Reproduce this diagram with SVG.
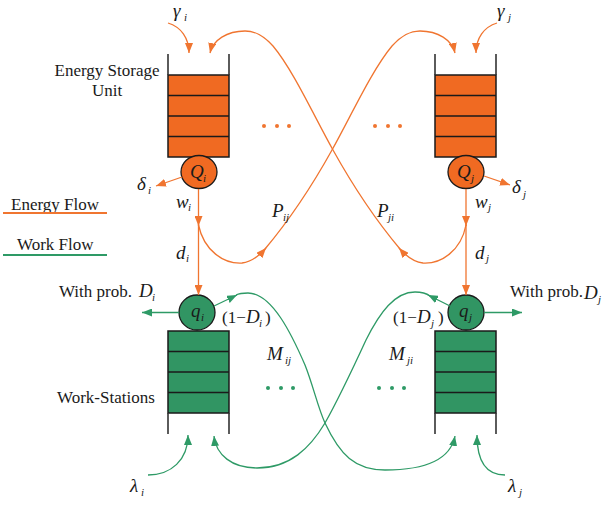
<svg xmlns="http://www.w3.org/2000/svg" width="611" height="507" viewBox="0 0 611 507" font-family="'Liberation Serif', 'Times New Roman', 'DejaVu Serif', serif">
<style>
text{font-family:'Liberation Serif','Times New Roman','DejaVu Serif',serif;fill:#1a1a1a}
.lbl{font-size:17px}
.sym{font-size:19px;font-style:italic}
.sub{font-size:11px;font-style:italic}
.or{fill:none;stroke:#F07530;stroke-width:1.3}
.gr{fill:none;stroke:#2E9A66;stroke-width:1.3}
.wall{stroke:#333;stroke-width:1.6;fill:none}
.ecell{fill:#F06A22;stroke:#1a1a1a;stroke-width:1.5}
.wcell{fill:#319563;stroke:#1a1a1a;stroke-width:1.5}
.div{stroke:#1a1a1a;stroke-width:1.5}
.od{fill:#F07530}
.gd{fill:#2E9A66}
</style>
<defs>
<marker id="ao" markerUnits="userSpaceOnUse" markerWidth="11" markerHeight="8" refX="10" refY="4" orient="auto"><path d="M0,0 L10,4 L0,8 z" fill="#F07530"/></marker>
<marker id="ag" markerUnits="userSpaceOnUse" markerWidth="11" markerHeight="8" refX="10" refY="4" orient="auto"><path d="M0,0 L10,4 L0,8 z" fill="#2E9A66"/></marker>
</defs>

<g id="legend">
<text class="lbl" x="11" y="210">Energy Flow</text>
<line x1="3" y1="213" x2="107" y2="213" stroke="#F07530" stroke-width="2"/>
<text class="lbl" x="17" y="250">Work Flow</text>
<line x1="3" y1="255" x2="107" y2="255" stroke="#2E9A66" stroke-width="2"/>
</g>

<g id="esu-i">
<text class="lbl" x="107" y="76" text-anchor="middle">Energy Storage</text>
<text class="lbl" x="107" y="96" text-anchor="middle">Unit</text>
<rect class="ecell" x="168" y="75" width="61" height="82"/>
<line class="div" x1="168" y1="95.5" x2="229" y2="95.5"/>
<line class="div" x1="168" y1="116" x2="229" y2="116"/>
<line class="div" x1="168" y1="136.5" x2="229" y2="136.5"/>
<line class="wall" x1="168" y1="54" x2="168" y2="75"/>
<line class="wall" x1="229" y1="54" x2="229" y2="75"/>
</g>
<g id="Q-i">
<ellipse cx="199" cy="172" rx="18" ry="16.5" fill="#F06A22" stroke="#1a1a1a" stroke-width="1.3"/>
<text class="sym" x="190" y="178">Q</text><text class="sub" x="203" y="182">i</text>
</g>

<g id="esu-j">
<rect class="ecell" x="435" y="75" width="61" height="82"/>
<line class="div" x1="435" y1="95.5" x2="496" y2="95.5"/>
<line class="div" x1="435" y1="116" x2="496" y2="116"/>
<line class="div" x1="435" y1="136.5" x2="496" y2="136.5"/>
<line class="wall" x1="435" y1="54" x2="435" y2="75"/>
<line class="wall" x1="496" y1="54" x2="496" y2="75"/>
</g>
<g id="Q-j">
<ellipse cx="466" cy="172" rx="18" ry="16.5" fill="#F06A22" stroke="#1a1a1a" stroke-width="1.3"/>
<text class="sym" x="457" y="178">Q</text><text class="sub" x="471" y="182">j</text>
</g>

<g id="ws-i">
<text class="lbl" x="57" y="403">Work-Stations</text>
<rect class="wcell" x="168" y="331" width="61" height="82"/>
<line class="div" x1="168" y1="351.5" x2="229" y2="351.5"/>
<line class="div" x1="168" y1="372" x2="229" y2="372"/>
<line class="div" x1="168" y1="392.5" x2="229" y2="392.5"/>
<line class="wall" x1="168" y1="413" x2="168" y2="434"/>
<line class="wall" x1="229" y1="413" x2="229" y2="434"/>
</g>
<g id="q-i">
<ellipse cx="197" cy="312.5" rx="18" ry="17.5" fill="#319563" stroke="#1a1a1a" stroke-width="1.3"/>
<text class="sym" x="191" y="317">q</text><text class="sub" x="201" y="321">i</text>
</g>

<g id="ws-j">
<rect class="wcell" x="435" y="331" width="61" height="82"/>
<line class="div" x1="435" y1="351.5" x2="496" y2="351.5"/>
<line class="div" x1="435" y1="372" x2="496" y2="372"/>
<line class="div" x1="435" y1="392.5" x2="496" y2="392.5"/>
<line class="wall" x1="435" y1="413" x2="435" y2="434"/>
<line class="wall" x1="496" y1="413" x2="496" y2="434"/>
</g>
<g id="q-j">
<ellipse cx="466" cy="312.5" rx="18" ry="17.5" fill="#319563" stroke="#1a1a1a" stroke-width="1.3"/>
<text class="sym" x="459" y="317">q</text><text class="sub" x="469" y="321">j</text>
</g>

<g id="dots">
<circle class="od" cx="264" cy="126" r="2"/><circle class="od" cx="277" cy="126" r="2"/><circle class="od" cx="289" cy="126" r="2"/>
<circle class="od" cx="375" cy="126" r="2"/><circle class="od" cx="388" cy="126" r="2"/><circle class="od" cx="400" cy="126" r="2"/>
<circle class="gd" cx="268" cy="388" r="2"/><circle class="gd" cx="281" cy="388" r="2"/><circle class="gd" cx="293" cy="388" r="2"/>
<circle class="gd" cx="379" cy="388" r="2"/><circle class="gd" cx="392" cy="388" r="2"/><circle class="gd" cx="404" cy="388" r="2"/>
</g>

<g id="connectors">
<path class="or" d="M168,23 C181,27 189,38 189,53" marker-end="url(#ao)"/>
<path class="or" d="M497,23 C484,27 476,38 476,53" marker-end="url(#ao)"/>
<path class="or" d="M182,177 L156,186" marker-end="url(#ao)"/>
<path class="or" d="M484,176 L510,185" marker-end="url(#ao)"/>
<path class="or" d="M198.5,189 L198.5,226" marker-end="url(#ao)"/>
<path class="or" d="M198.5,224 L198.5,295" marker-end="url(#ao)"/>
<path class="or" d="M466,189 L466,226" marker-end="url(#ao)"/>
<path class="or" d="M466,224 L466,295" marker-end="url(#ao)"/>
<path class="or" d="M198.5,225 C204,251 224,264 242,263 C252,262 259,256 266,248" marker-end="url(#ao)"/>
<path class="or" d="M265,249 C286,224 312,186 332,150 C352,114 372,70 392,46 C402,35 410,31 420,31 C438,31 452,40 455,53" marker-end="url(#ao)"/>
<path class="or" d="M466,225 C461,251 441,264 423,263 C413,262 406,256 399,248" marker-end="url(#ao)"/>
<path class="or" d="M400,249 C379,224 353,186 333,150 C313,114 293,70 273,46 C263,35 255,31 245,31 C227,31 213,40 210,53" marker-end="url(#ao)"/>
<path class="gr" d="M179,312.5 L142,312.5" marker-end="url(#ag)"/>
<path class="gr" d="M484,312.5 L522,312.5" marker-end="url(#ag)"/>
<path class="gr" d="M214,306 L237,295" marker-end="url(#ag)"/>
<path class="gr" d="M236,295 C240,293 244,293 248,293 C272,293 292,335 305,365 C313,385 318,408 325,423 C340,455 355,470 385,470 C420,470 450,462 455,436" marker-end="url(#ag)"/>
<path class="gr" d="M450,306 L428,295" marker-end="url(#ag)"/>
<path class="gr" d="M430,296 C426,293 420,292 415,292 C395,292 380,312 366,340 C354,366 338,400 325,423 C310,448 290,468 257,468 C232,468 216,455 214,436" marker-end="url(#ag)"/>
<path class="gr" d="M148,475 C171,475 188,460 188,435" marker-end="url(#ag)"/>
<path class="gr" d="M505,475 C484,475 477,458 477,435" marker-end="url(#ag)"/>
</g>

<g id="labels">
<text class="sym" x="173" y="17">γ</text><text class="sub" x="184" y="21">i</text>
<text class="sym" x="497" y="17">γ</text><text class="sub" x="508" y="21">j</text>
<text class="sym" x="137" y="190">δ</text><text class="sub" x="148" y="194">i</text>
<text class="sym" x="512" y="193">δ</text><text class="sub" x="523" y="198">j</text>
<text class="sym" x="176" y="208">w</text><text class="sub" x="188" y="211">i</text>
<text class="sym" x="475" y="208">w</text><text class="sub" x="488" y="211">j</text>
<text class="sym" x="176" y="259">d</text><text class="sub" x="186" y="262">i</text>
<text class="sym" x="475" y="259">d</text><text class="sub" x="486" y="262">j</text>
<text class="sym" x="272" y="217">P</text><text class="sub" x="283" y="221">ij</text>
<text class="sym" x="377" y="217">P</text><text class="sub" x="388" y="221">ji</text>
<text class="sym" x="267" y="360">M</text><text class="sub" x="285" y="364">ij</text>
<text class="sym" x="389" y="360">M</text><text class="sub" x="407" y="364">ji</text>
<text class="lbl" x="59" y="297">With prob.</text><text class="sym" x="139" y="297">D</text><text class="sub" x="152" y="301">i</text>
<text class="lbl" x="510" y="297">With prob.</text><text class="sym" x="584" y="299">D</text><text class="sub" x="598" y="303">j</text>
<text class="lbl" x="222" y="323" font-size="18">(1−</text><text class="sym" x="246" y="323">D</text><text class="sub" x="259" y="327">i</text><text class="lbl" x="265" y="323" font-size="18">)</text>
<text class="lbl" x="393" y="323" font-size="18">(1−</text><text class="sym" x="417" y="323">D</text><text class="sub" x="431" y="327">j</text><text class="lbl" x="438" y="323" font-size="18">)</text>
<text class="sym" x="130" y="492">λ</text><text class="sub" x="141" y="496">i</text>
<text class="sym" x="508" y="492">λ</text><text class="sub" x="519" y="496">j</text>
</g>
</svg>
